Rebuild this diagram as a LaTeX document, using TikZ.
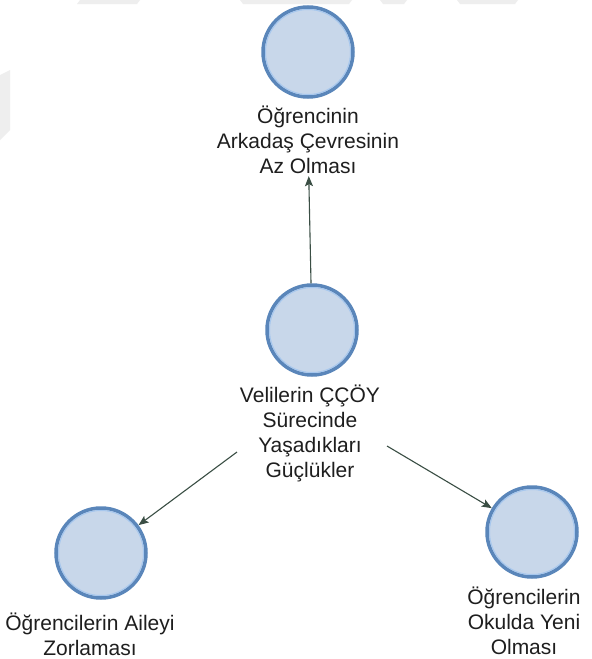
\documentclass[tikz,border=0pt]{standalone}
\usepackage{fontspec}
\setmainfont{Liberation Sans}
\usetikzlibrary{arrows.meta}
\definecolor{discfill}{HTML}{C8D7EA}
\definecolor{discedge}{HTML}{5A86BA}
\definecolor{discglow}{HTML}{A6C7EE}
\definecolor{linkcol}{HTML}{3A4E44}
\definecolor{inkcol}{HTML}{1E1E1E}
\definecolor{wmark}{HTML}{EEEEEE}
\tikzset{
  disc/.style={circle, minimum size=90pt, inner sep=0pt, fill=discfill,
               draw=discedge, line width=3.5pt},
  caption/.style={anchor=north, align=center, inner sep=2pt, text=inkcol,
                  font=\fontsize{21}{25}\selectfont},
  link/.style={draw=linkcol, line width=1.1pt,
               -{Stealth[length=10pt, width=8pt, inset=2pt]}},
}
\newcommand{\glowring}[1]{\draw[discglow, line width=1pt] (#1) circle[radius=42.5pt];}
\begin{document}
\begin{tikzpicture}[x=1pt, y=-1pt]
  \useasboundingbox (0,0) rectangle (592,659);
  \fill[white] (0,0) rectangle (592,659);
  % faint background watermark bands along the top and left edges
  \fill[wmark] (80,0) -- (140,0) -- (137,4) -- (77,4) -- cycle;
  \fill[wmark] (240,0) -- (352,0) -- (349,4) -- (243,4) -- cycle;
  \fill[wmark] (380,0) -- (407,0) -- (404,4) -- (383,4) -- cycle;
  \fill[wmark] (457,0) -- (518,0) -- (515,4) -- (460,4) -- cycle;
  \fill[wmark] (0,75) -- (10,70) -- (10,130) -- (0,140) -- cycle;

  % discs
  \node[disc] (top)   at (308,52)  {};
  \node[disc] (mid)   at (312,330) {};
  \node[disc] (left)  at (101,553) {};
  \node[disc] (right) at (532,532) {};
  \glowring{top}\glowring{mid}\glowring{left}\glowring{right}

  % captions
  \node[caption] (toplab)   at (308,104) {Öğrencinin\\Arkadaş Çevresinin\\Az Olması};
  \node[caption] (midlab)   at (310,383) {Velilerin ÇÇÖY\\Sürecinde\\Yaşadıkları\\Güçlükler};
  \node[caption] (leftlab)  at (90,611)  {Öğrencilerin Aileyi\\Zorlaması};
  \node[caption] (rightlab) at (524,585) {Öğrencilerin\\Okulda Yeni\\Olması};

  % connectors
  \coordinate (lstart) at (237,452);
  \coordinate (rstart) at (387,446);
  \draw[link] (mid) -- (toplab);
  \draw[link] (lstart) -- (left);
  \draw[link] (rstart) -- (right);
\end{tikzpicture}
\end{document}
